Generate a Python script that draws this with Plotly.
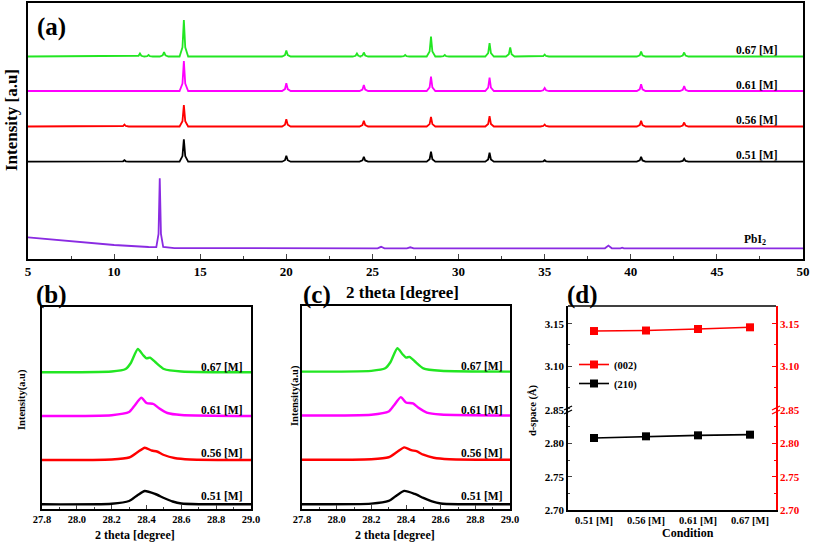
import plotly.graph_objects as go

W, H = 813, 545
SERIF = "Liberation Serif, Times New Roman, serif"

# ---------------- Panel (a) data: XRD patterns (stacked, a.u.) ----------------
peak_pos = [10.6, 11.5, 12.0, 12.9, 14.05, 20.0, 24.1, 24.5, 26.9, 28.4, 29.2, 31.8, 33.0, 35.0, 40.6, 43.1]
h_067 = [0.0, 3.0, 1.5, 4.4, 36.5, 6.0, 3.0, 4.0, 1.5, 20.0, 1.5, 13.4, 9.0, 2.0, 5.0, 4.0]
h_061 = [0.0, 0.0, 0.0, 0.0, 30.0, 7.7, 0.0, 6.0, 0.0, 14.3, 0.0, 13.3, 0.0, 3.0, 6.7, 5.0]
h_056 = [2.0, 0.0, 0.0, 0.0, 21.3, 7.3, 0.0, 5.6, 0.0, 9.6, 0.0, 10.3, 0.0, 2.0, 5.6, 4.0]
h_051 = [1.5, 0.0, 0.0, 0.0, 22.4, 6.0, 0.0, 5.0, 0.0, 10.0, 0.0, 9.0, 0.0, 1.5, 5.0, 3.0]
series_names = ["0.51 [M]", "0.56 [M]", "0.61 [M]", "0.67 [M]"]
series_heights = [h_051, h_056, h_061, h_067]
series_offsets = [97.3, 132.5, 168.0, 202.5]
series_colors = ["#000000", "#ff0000", "#ff00ff", "#22e622"]
# peak profile (relative offsets in 2theta and fraction of peak height)
shape_dx = [-0.25, -0.08, 0.0, 0.08, 0.25]
shape_frac = [0.0, 0.25, 1.0, 0.25, 0.0]

pbi2_x = [5, 8, 10, 12, 12.45, 12.58, 12.65, 12.72, 12.85, 13.5, 25.3, 25.5, 25.7, 27.0, 27.2, 27.4, 38.5, 38.7, 38.9, 39.4, 39.5, 39.6, 50]
pbi2_y = [21.7, 17.5, 14.0, 12.0, 11.8, 25.0, 80.7, 25.0, 12.0, 10.9, 10.7, 12.2, 10.7, 10.7, 11.7, 10.7, 10.7, 13.4, 10.7, 10.7, 11.3, 10.7, 10.7]

# ---------------- Panels (b) and (c): zoom of the (002) peak ----------------
zx_067 = [27.8, 28.2, 28.28, 28.31, 28.35, 28.38, 28.40, 28.42, 28.45, 28.5, 28.6, 29.0]
zy_067 = [136.7, 137.5, 140.0, 146.0, 160.0, 154.0, 150.7, 151.3, 147.0, 140.0, 137.5, 136.7]
zx_061 = [27.8, 28.2, 28.3, 28.33, 28.37, 28.40, 28.44, 28.47, 28.52, 28.6, 29.0]
zy_061 = [93.0, 93.8, 97.0, 103.0, 111.3, 106.0, 105.0, 101.0, 96.0, 94.0, 93.0]
zx_056 = [27.8, 28.2, 28.3, 28.35, 28.39, 28.43, 28.46, 28.5, 28.56, 28.65, 29.0]
zy_056 = [49.0, 49.5, 51.5, 57.0, 61.3, 58.5, 57.5, 54.0, 51.0, 49.5, 49.0]
zx_051 = [27.8, 28.2, 28.3, 28.35, 28.39, 28.45, 28.5, 28.55, 28.6, 28.7, 29.0]
zy_051 = [4.7, 5.3, 8.0, 14.0, 18.0, 15.0, 11.0, 7.5, 5.5, 4.8, 4.7]
zoom_x = [zx_051, zx_056, zx_061, zx_067]
zoom_y = [zy_051, zy_056, zy_061, zy_067]
zoom_label_y = [13.0, 56.0, 99.0, 142.5]

# ---------------- Panel (d): d-spacing ----------------
conditions = ["0.51 [M]", "0.56 [M]", "0.61 [M]", "0.67 [M]"]
d_002 = [3.1414, 3.1420, 3.1438, 3.1458]
d_210 = [2.8080, 2.8105, 2.8120, 2.8130]


def px(x):
    return x / W


def py(y):
    return 1 - y / H


def build_pattern(heights, offset):
    xs, ys = [5.0], [offset]
    for p, h in zip(peak_pos, heights):
        if h <= 0:
            continue
        for dx, f in zip(shape_dx, shape_frac):
            xs.append(p + dx)
            ys.append(offset + f * h)
    xs.append(50.0)
    ys.append(offset)
    return xs, ys


fig = go.Figure()

# (a)
fig.add_trace(go.Scatter(x=pbi2_x, y=pbi2_y, mode="lines", line=dict(color="#8a2be2", width=1.8),
                         xaxis="x", yaxis="y", showlegend=False))
for name, hts, off, col in zip(series_names, series_heights, series_offsets, series_colors):
    xs, ys = build_pattern(hts, off)
    fig.add_trace(go.Scatter(x=xs, y=ys, mode="lines", line=dict(color=col, width=1.8),
                             xaxis="x", yaxis="y", showlegend=False))

# (b) and (c)
for ax, ay in (("x2", "y2"), ("x3", "y3")):
    for xs, ys, col in zip(zoom_x, zoom_y, series_colors):
        fig.add_trace(go.Scatter(x=xs, y=ys, mode="lines", line=dict(color=col, width=2.4, shape="spline", smoothing=0.6),
                                 xaxis=ax, yaxis=ay, showlegend=False))

# (d)
fig.add_trace(go.Scatter(x=conditions, y=d_002, mode="lines+markers", name="(002)",
                         line=dict(color="#ff0000", width=1.6), marker=dict(symbol="square", size=8, color="#ff0000"),
                         xaxis="x4", yaxis="y5"))
fig.add_trace(go.Scatter(x=conditions, y=d_210, mode="lines+markers", name="(210)",
                         line=dict(color="#000000", width=1.6), marker=dict(symbol="square", size=8, color="#000000"),
                         xaxis="x4", yaxis="y4"))
# invisible traces to activate right-side axes of (d)
fig.add_trace(go.Scatter(x=conditions, y=d_210, mode="none", xaxis="x4", yaxis="y6", showlegend=False, hoverinfo="skip"))
fig.add_trace(go.Scatter(x=conditions, y=d_002, mode="none", xaxis="x4", yaxis="y7", showlegend=False, hoverinfo="skip"))

bold = "bold"
base_axis = dict(showgrid=False, zeroline=False, showline=True, linecolor="black", linewidth=1.5, automargin=False)

# domains
a_x = [px(28), px(803)]
a_y = [py(259), py(3)]
b_x = [px(42), px(251)]
b_y = [py(509), py(307)]
c_x = [px(302), px(510)]
c_y = [py(509), py(306)]
d_x = [px(568), px(776)]
d_lo = [py(510), py(410)]
d_hi = [py(410), py(306)]

red_axis = dict(showgrid=False, zeroline=False, showline=True, linecolor="#ff0000", linewidth=1.5,
                automargin=False, side="right", anchor="x4", tickformat=".2f",
                ticks="inside", ticklen=4, tickcolor="#ff0000",
                tickfont=dict(size=11, family=SERIF, weight=bold, color="#ff0000"))

fig.update_layout(
    template="none",
    width=W, height=H, margin=dict(l=0, r=0, t=0, b=0, pad=0, autoexpand=False),
    paper_bgcolor="white", plot_bgcolor="white",
    font=dict(family=SERIF, color="black"),
    xaxis=dict(**base_axis, domain=a_x, anchor="y", range=[5, 50], mirror=True,
               tickmode="array", tickvals=[5, 10, 15, 20, 25, 30, 35, 40, 45, 50],
               ticks="inside", ticklen=5, tickwidth=1.2,
               minor=dict(ticks="inside", ticklen=3, dtick=2.5, tick0=5),
               tickfont=dict(size=13, family=SERIF, weight=bold)),
    yaxis=dict(**base_axis, domain=a_y, anchor="x", range=[0, 256], mirror=True,
               showticklabels=False, ticks=""),
    xaxis2=dict(**base_axis, domain=b_x, anchor="y2", range=[27.8, 29.0], mirror=True,
                tickmode="linear", tick0=27.8, dtick=0.2, tickformat=".1f",
                ticks="inside", ticklen=4, minor=dict(ticks="inside", ticklen=2.5, dtick=0.1, tick0=27.8),
                tickfont=dict(size=10.5, family=SERIF, weight=bold)),
    yaxis2=dict(**base_axis, domain=b_y, anchor="x2", range=[0, 202], mirror=True,
                showticklabels=False, ticks=""),
    xaxis3=dict(**base_axis, domain=c_x, anchor="y3", range=[27.8, 29.0], mirror=True,
                tickmode="linear", tick0=27.8, dtick=0.2, tickformat=".1f",
                ticks="inside", ticklen=4, minor=dict(ticks="inside", ticklen=2.5, dtick=0.1, tick0=27.8),
                tickfont=dict(size=10.5, family=SERIF, weight=bold)),
    yaxis3=dict(**base_axis, domain=c_y, anchor="x3", range=[0, 202], mirror=True,
                showticklabels=False, ticks=""),
    xaxis4=dict(**base_axis, domain=d_x, anchor="y4", type="category", range=[-0.5, 3.5],
                ticks="", tickfont=dict(size=10.5, family=SERIF, weight=bold)),
    yaxis4=dict(**base_axis, domain=d_lo, anchor="x4", range=[2.70, 2.85],
                tickmode="array", tickvals=[2.70, 2.75, 2.80, 2.85], tickformat=".2f",
                ticks="inside", ticklen=4, minor=dict(ticks="inside", ticklen=2.5, dtick=0.025, tick0=2.70),
                tickfont=dict(size=11, family=SERIF, weight=bold)),
    yaxis5=dict(**base_axis, domain=d_hi, anchor="x4", range=[3.048, 3.171],
                tickmode="array", tickvals=[3.10, 3.15], tickformat=".2f",
                ticks="inside", ticklen=4, minor=dict(ticks="inside", ticklen=2.5, dtick=0.025, tick0=3.05),
                tickfont=dict(size=11, family=SERIF, weight=bold)),
    yaxis6=dict(**red_axis, overlaying="y4", range=[2.70, 2.85],
                tickmode="array", tickvals=[2.70, 2.75, 2.80, 2.85],
                minor=dict(ticks="inside", ticklen=2.5, dtick=0.025, tick0=2.70, tickcolor="#ff0000")),
    yaxis7=dict(**red_axis, overlaying="y5", range=[3.048, 3.171],
                tickmode="array", tickvals=[3.10, 3.15],
                minor=dict(ticks="inside", ticklen=2.5, dtick=0.025, tick0=3.05, tickcolor="#ff0000")),
    legend=dict(x=px(574), y=py(350), xanchor="left", yanchor="top", bgcolor="rgba(0,0,0,0)",
                font=dict(size=10.5, family=SERIF, weight=bold), itemwidth=30, tracegroupgap=0),
)

shapes = [
    dict(type="line", xref="paper", yref="paper", x0=px(568), x1=px(776), y0=py(306), y1=py(306),
         line=dict(color="black", width=1.5)),
]
# break marks on both sides of (d)
for bx, col in ((568, "black"), (776, "#ff0000")):
    for dy in (-2, 2):
        shapes.append(dict(type="line", xref="paper", yref="paper",
                           x0=px(bx - 4), x1=px(bx + 4), y0=py(410 + dy + 2), y1=py(410 + dy - 2),
                           line=dict(color=col, width=1.3)))
fig.update_layout(shapes=shapes)

ann = []


def t(x, y, text, size, angle=0, xanchor="center", color="black", xref="paper", yref="paper", yanchor="middle"):
    ann.append(dict(x=x, y=y, xref=xref, yref=yref, text=text, showarrow=False, textangle=angle,
                    xanchor=xanchor, yanchor=yanchor,
                    font=dict(size=size, family=SERIF, color=color, weight="bold")))


# panel tags
t(px(52), py(27), "(a)", 25)
t(px(52), py(295), "(b)", 25)
t(px(317), py(295), "(c)", 25)
t(px(582), py(295), "(d)", 25)

# axis titles
t(px(11), py(120), "Intensity [a.u]", 17, angle=-90)
t(px(402), py(292), "2 theta [degree]", 17)
t(px(22), py(400), "Intensity(a.u)", 10.5, angle=-90)
t(px(295), py(396), "Intensity(a.u)", 10.5, angle=-90)
t(px(135), py(535), "2 theta [degree]", 12)
t(px(395), py(535), "2 theta [degree]", 12)
t(px(533), py(410), "d-space (Å)", 10.5, angle=-90)
t(px(688), py(533), "Condition", 12)

# series labels
for name, off in zip(series_names, series_offsets):
    t(48.67, off + 6.5, name, 11.5, xanchor="right", xref="x", yref="y")
t(47.2, 19.0, "PbI<sub>2</sub>", 11.5, xref="x", yref="y")
for name, ly in zip(series_names, zoom_label_y):
    t(28.966, ly, name, 11.5, xanchor="right", xref="x2", yref="y2")
    t(28.971, ly, name, 11.5, xanchor="right", xref="x3", yref="y3")

fig.update_layout(annotations=ann)

fig.write_html("out.html", config={"displayModeBar": False},
               post_script="document.body.style.margin='0';document.body.style.overflow='hidden';")
